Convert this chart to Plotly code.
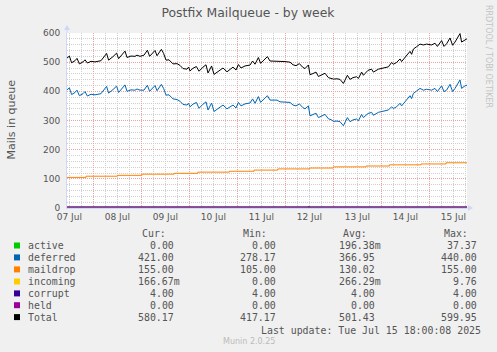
import numpy as np
import pandas as pd
import plotly.graph_objects as go

# ---------------- data ----------------
start_time = pd.Timestamp("2025-07-07 10:51")
span_hours = 200

# deferred (hours after start, value)
deferred_hours = [0, 1.2, 2.3, 4, 5, 6.2, 8, 9, 10.2, 12, 14, 15.2, 17, 19.8, 20.8, 23, 24.8, 25.8,
                  27, 29, 30, 32, 34, 35, 36.5, 38.5, 40.2, 41.3, 44, 45, 47.2, 48.3, 49.5, 51, 53,
                  55, 56.5, 58, 60, 60.8, 61.5, 63, 64.7, 66, 68, 69.5, 70.5, 72.3, 73.5, 76.5, 78,
                  80, 81.5, 83, 84.5, 85.7, 87, 89, 91.5, 92.8, 94, 95.7, 96.8, 99, 100.2, 101.5,
                  103, 105, 106.5, 109, 111.5, 113, 114.5, 116.2, 117.8, 119, 120.7, 121.5, 123,
                  124.5, 125.7, 127.3, 129, 130.7, 132.3, 133.2, 135, 136.5, 138.2, 140.2, 141.5,
                  143, 144.8, 145.7, 147.3, 148.2, 149, 150.5, 152.3, 153.2, 155.7, 158.2, 160.7,
                  162.3, 163.2, 164.8, 166.5, 167.3, 169, 170.7, 171.5, 172.3, 173.2, 174.8, 176.5,
                  178.2, 179.8, 182.3, 184, 185.2, 186.5, 187.3, 188.5, 189.8, 191.5, 192.8, 194,
                  196.5, 197.3, 199, 200]
deferred_vals = [405, 412, 389, 396, 404, 385, 392, 399, 384, 390, 388, 390, 392, 417, 394, 406, 418, 396,
                 405, 422, 400, 405, 404, 408, 404, 404, 421, 400, 420, 402, 424, 410, 387, 388, 374,
                 372, 366, 355, 353, 359, 347, 356, 362, 342, 356, 364, 336, 360, 331, 347, 353,
                 340, 346, 353, 343, 362, 350, 357, 360, 374, 359, 382, 362, 378, 385, 370,
                 370, 370, 364, 364, 362, 353, 350, 357, 345, 340, 350, 316, 320,
                 325, 310, 316, 321, 306, 302, 297, 298, 296, 282, 310, 296,
                 302, 305, 299, 321, 310, 316, 324, 328, 318, 328, 331, 336,
                 347, 341, 347, 359, 350, 364, 378, 385, 375, 393, 401, 410,
                 404, 407, 404, 410, 399, 410, 419, 399, 404, 424, 399, 410,
                 439, 410, 419, 421]

# maildrop (step changes)
maildrop_hours = [0, 9.5, 25.2, 37.4, 53.5, 65.4, 81.2, 93.5, 105.4, 121.2, 133.2, 149.5, 161.2, 177, 189.5, 200]
maildrop_vals = [105, 109, 112, 116, 119, 123, 126, 130, 134, 137, 141, 144, 148, 151, 155, 155]

active_hours = [0, 120.5, 121, 121.5, 200]
active_vals = [0, 0, 6, 0, 0]

incoming_hours = [0, 60, 60.5, 61, 199.5, 200]
incoming_vals = [0, 0, 3, 0, 0, 0.17]

corrupt_hours = [0, 200]
corrupt_vals = [4, 4]

held_hours = [0, 200]
held_vals = [0, 0]

series_names = ["active", "deferred", "maildrop", "incoming", "corrupt", "held", "Total"]
series_colors = ["#00CC00", "#0066B3", "#FF8000", "#FFCC00", "#330099", "#990099", "#000000"]
legend_cur = ["0.00 ", "421.00 ", "155.00 ", "166.67m", "4.00 ", "0.00 ", "580.17 "]
legend_min = ["0.00 ", "278.17 ", "105.00 ", "0.00 ", "4.00 ", "0.00 ", "417.17 "]
legend_avg = ["196.38m", "366.95 ", "130.02 ", "266.29m", "4.00 ", "0.00 ", "501.43 "]
legend_max = ["37.37 ", "440.00 ", "155.00 ", "9.76 ", "4.00 ", "0.00 ", "599.95 "]
legend_headers = ["Cur:", "Min:", "Avg:", "Max:"]

title_text = "Postfix Mailqueue - by week"
y_title = "Mails in queue"
side_text = "RRDTOOL / TOBI OETIKER"
update_text = "Last update: Tue Jul 15 18:00:08 2025"
version_text = "Munin 2.0.25"

# ---------------- helpers ----------------
def to_time(hours):
    return start_time + pd.to_timedelta(np.asarray(hours, dtype=float), unit="h")


def step_lookup(hours_steps, vals_steps, t):
    idx = np.searchsorted(np.asarray(hours_steps), np.asarray(t), side="right") - 1
    return np.asarray(vals_steps)[np.clip(idx, 0, len(vals_steps) - 1)]

def interp_lookup(hours_pts, vals_pts, t):
    return np.interp(t, hours_pts, vals_pts)

th = np.array(deferred_hours, dtype=float)
total_vals = (np.array(deferred_vals, dtype=float)
              + step_lookup(maildrop_hours, maildrop_vals, th)
              + interp_lookup(incoming_hours, incoming_vals, th)
              + interp_lookup(corrupt_hours, corrupt_vals, th)
              + interp_lookup(held_hours, held_vals, th)
              + interp_lookup(active_hours, active_vals, th))

W, H = 497, 352
L, R, T, B = 67, 30, 33, 144
PW, PH = W - L - R, H - T - B

def px(xp):
    return (xp - L) / PW

def py(yp):
    return (T + PH - yp) / PH

LW = 1.0
fig = go.Figure()
fig.add_trace(go.Scatter(x=to_time(active_hours), y=active_vals, mode="lines",
                         line=dict(color=series_colors[0], width=LW)))
fig.add_trace(go.Scatter(x=to_time(deferred_hours), y=deferred_vals, mode="lines",
                         line=dict(color=series_colors[1], width=LW)))
fig.add_trace(go.Scatter(x=to_time(maildrop_hours), y=maildrop_vals, mode="lines",
                         line=dict(color=series_colors[2], width=LW, shape="hv")))
fig.add_trace(go.Scatter(x=to_time(incoming_hours), y=incoming_vals, mode="lines",
                         line=dict(color=series_colors[3], width=LW)))
fig.add_trace(go.Scatter(x=to_time(corrupt_hours), y=corrupt_vals, mode="lines",
                         line=dict(color=series_colors[4], width=LW)))
fig.add_trace(go.Scatter(x=to_time(held_hours), y=held_vals, mode="lines",
                         line=dict(color=series_colors[5], width=LW)))
fig.add_trace(go.Scatter(x=to_time(deferred_hours), y=total_vals, mode="lines",
                         line=dict(color=series_colors[6], width=LW)))

RED = "#EBA3A3"
GREY = "#CFCFCF"
AXIS = "#CFD6F8"
TXT = "#555555"

fig.update_layout(
    width=W, height=H, margin=dict(l=L, r=R, t=T, b=B, autoexpand=False),
    paper_bgcolor="#F0F0F0", plot_bgcolor="#FFFFFF",
    showlegend=False,
    font=dict(family="DejaVu Sans", color=TXT),
    title=dict(text=title_text, x=248 / W, xanchor="center", y=1 - 13 / H, yanchor="middle",
               font=dict(family="DejaVu Sans", size=12.4, color=TXT)),
    xaxis=dict(type="date", range=[start_time, start_time + pd.Timedelta(hours=span_hours)],
               tick0="2025-07-08 00:00", dtick=86400000, ticklabelmode="period",
               tickformat="%d %b", ticks="", showgrid=True, gridcolor=RED, griddash="1px,1px",
               gridwidth=1, zeroline=False, showline=True, linecolor=AXIS, linewidth=1,
               layer="below traces", tickfont=dict(family="DejaVu Sans", size=9, color=TXT),
               minor=dict(dtick=21600000, tick0="2025-07-08 00:00", showgrid=True,
                          gridcolor=GREY, griddash="1px,1px", gridwidth=1)),
    yaxis=dict(range=[0, 600], tick0=0, dtick=100, ticks="", showgrid=True, gridcolor=RED,
               griddash="1px,1px", gridwidth=1, zeroline=False, showline=True, linecolor=AXIS,
               linewidth=1, layer="below traces", ticklabelstandoff=4,
               tickfont=dict(family="DejaVu Sans", size=9, color=TXT),
               minor=dict(dtick=20, tick0=0, showgrid=True, gridcolor=GREY,
                          griddash="1px,1px", gridwidth=1)),
)

ann = []
shapes = []
# axis arrows
shapes.append(dict(type="line", xref="paper", yref="paper", x0=px(67), x1=px(67), y0=py(33), y1=py(28),
                   line=dict(color=AXIS, width=1)))
shapes.append(dict(type="path", xref="paper", yref="paper",
                   path=f"M {px(64)} {py(30)} L {px(70)} {py(30)} L {px(67)} {py(25)} Z",
                   fillcolor=AXIS, line=dict(width=0)))
shapes.append(dict(type="line", xref="paper", yref="paper", x0=px(467), x1=px(469), y0=py(208), y1=py(208),
                   line=dict(color=AXIS, width=1)))
shapes.append(dict(type="path", xref="paper", yref="paper",
                   path=f"M {px(468)} {py(205)} L {px(468)} {py(211)} L {px(473)} {py(208)} Z",
                   fillcolor=AXIS, line=dict(width=0)))

ann.append(dict(text=y_title, x=px(10.5), y=py(120), xref="paper", yref="paper", showarrow=False,
                textangle=-90, xanchor="center", yanchor="middle",
                font=dict(family="DejaVu Sans", size=11, color=TXT)))
ann.append(dict(text=side_text, x=px(488.5), y=py(56.5), xref="paper", yref="paper", showarrow=False,
                textangle=90, xanchor="center", yanchor="middle",
                font=dict(family="DejaVu Sans", size=8, color="#C4C4C4")))

MONO = "DejaVu Sans Mono"
FS = 9.9
header_right = [166.7, 268.3, 368.3, 469.3]
for htxt, hx in zip(legend_headers, header_right):
    ann.append(dict(text=htxt, x=px(hx), y=py(233.3), xref="paper", yref="paper", showarrow=False,
                    xanchor="right", yanchor="middle", borderpad=0,
                    font=dict(family=MONO, size=FS, color=TXT)))

row_y = [245.5, 257.4, 269.4, 281.5, 293.4, 305.2, 317.1]
col_right = [181, 282.7, 382, 483.7]
for i, name in enumerate(series_names):
    yy = row_y[i]
    shapes.append(dict(type="rect", xref="paper", yref="paper", x0=px(14), x1=px(20),
                       y0=py(yy + 3), y1=py(yy - 3), fillcolor=series_colors[i], line=dict(width=0)))
    ann.append(dict(text=name, x=px(26.7), y=py(yy), xref="paper", yref="paper", showarrow=False,
                    xanchor="left", yanchor="middle", borderpad=0,
                    font=dict(family=MONO, size=FS, color=TXT)))
    for col, xr in zip([legend_cur, legend_min, legend_avg, legend_max], col_right):
        ann.append(dict(text=col[i].replace(" ", "\u00a0"), x=px(xr), y=py(yy), xref="paper", yref="paper",
                        showarrow=False, xanchor="right", yanchor="middle", borderpad=0,
                        font=dict(family=MONO, size=FS, color=TXT)))

ann.append(dict(text=update_text.replace(" ", "\u00a0"), x=px(482.3), y=py(330), xref="paper", yref="paper",
                showarrow=False, xanchor="right", yanchor="middle", borderpad=0,
                font=dict(family=MONO, size=FS, color=TXT)))
ann.append(dict(text=version_text, x=px(249), y=py(341), xref="paper", yref="paper", showarrow=False,
                xanchor="center", yanchor="middle", borderpad=0,
                font=dict(family="DejaVu Sans", size=8, color="#BBBBBB")))

fig.update_layout(annotations=ann, shapes=shapes)
fig.write_html("out.html")
